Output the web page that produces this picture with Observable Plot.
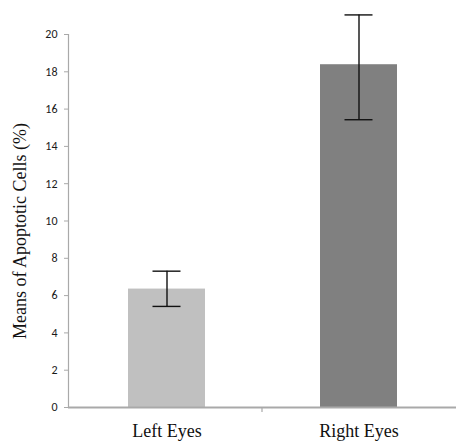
<!DOCTYPE html>
<html>
<head>
<meta charset="utf-8">
<script src="https://cdn.jsdelivr.net/npm/d3@7"></script>
<script src="https://cdn.jsdelivr.net/npm/@observablehq/plot@0.6"></script>
<style>
  html, body { margin: 0; padding: 0; background: #fff; }
  .ylab text { font-family: 'Liberation Serif', 'Times New Roman', serif; }
</style>
</head>
<body>
<div id="chart"></div>
<script>
const categories = ["Left Eyes", "Right Eyes"];
const means = [6.35, 18.38];
const errLow = [5.42, 15.43];
const errHigh = [7.31, 21.05];
const barColors = ["#c0c0c0", "#808080"];
const yTicks = [0, 2, 4, 6, 8, 10, 12, 14, 16, 18, 20];
const yLabel = "Means of Apoptotic Cells (%)";

const data = categories.map((c, i) => ({cat: c, mean: means[i], lo: errLow[i], hi: errHigh[i], color: barColors[i]}));

const W = 456, H = 441, ML = 68, MR = 0, MT = 34, MB = 34;
const step = (W - ML - MR) / categories.length;
const axisGrey = "#a9a9a9";
const serif = "'Liberation Serif', 'Times New Roman', serif";

const plot = Plot.plot({
  width: W, height: H,
  marginLeft: ML, marginRight: MR, marginTop: MT, marginBottom: MB,
  style: {fontFamily: "Carlito, Calibri, 'Liberation Sans', Arial, sans-serif", background: "#fff", overflow: "visible"},
  x: {domain: categories, paddingInner: 0.6, paddingOuter: 0.31, label: null},
  y: {domain: [0, 20], label: null},
  marks: [
    Plot.barY(data, {x: "cat", y: "mean", fill: "color"}),
    Plot.ruleX(data, {x: "cat", y1: "lo", y2: "hi", stroke: "#111", strokeWidth: 1.4}),
    Plot.tickY(data, {x: "cat", y: "lo", stroke: "#111", strokeWidth: 1.4, insetLeft: 24.5, insetRight: 24.5}),
    Plot.tickY(data, {x: "cat", y: "hi", stroke: "#111", strokeWidth: 1.4, insetLeft: 24.5, insetRight: 24.5}),
    Plot.frame({anchor: "left", stroke: axisGrey, strokeWidth: 1.2}),
    Plot.ruleY([0], {stroke: axisGrey, strokeWidth: 2}),
    Plot.ruleX([categories[1]], {x: d => d, y1: 0, y2: 0, insetBottom: -5, dx: -step / 2, stroke: axisGrey, strokeWidth: 1.2}),
    Plot.axisY({ticks: yTicks, tickSize: 4, tickPadding: 7, stroke: axisGrey, fill: "#1a1a1a", fontSize: 12, label: null, tickFormat: d => d}),
    Plot.axisX({tickSize: 0, tickPadding: 17, fontSize: 18, fill: "#111", fontFamily: serif, label: null}),
    Plot.text([yLabel], {text: d => d, frameAnchor: "left", textAnchor: "middle", lineAnchor: "middle", rotate: -90, dx: -48, dy: 10, fontSize: 18, fill: "#111", fontFamily: serif, className: "ylab"})
  ]
});
document.getElementById("chart").appendChild(plot);
</script>
</body>
</html>
